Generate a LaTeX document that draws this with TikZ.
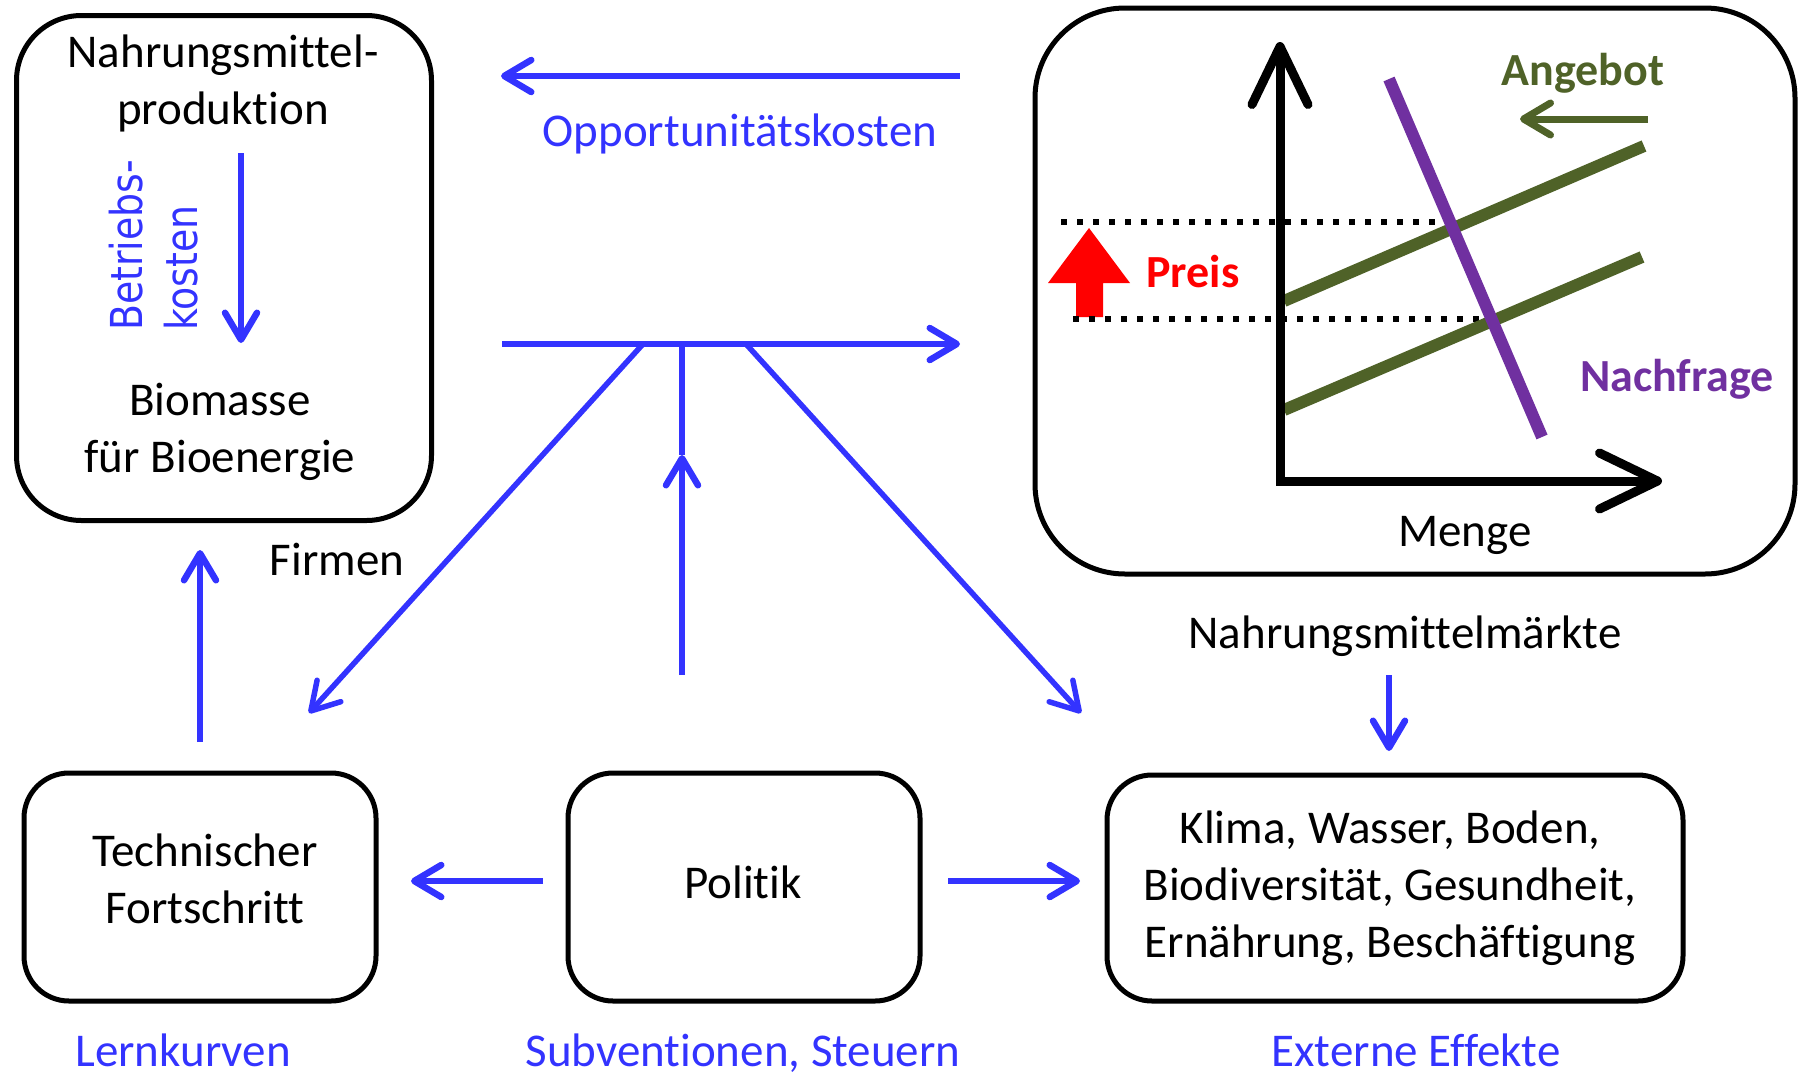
\documentclass[tikz,border=0pt]{standalone}
\usepackage{fontspec}
\usepackage{graphicx}
\setmainfont{Carlito}[Ligatures={NoCommon,NoContextual}]
\newfontfamily\dejavu{DejaVu Sans}
\usetikzlibrary{arrows.meta}
\definecolor{flowblue}{RGB}{51,51,255}
\definecolor{supplygreen}{RGB}{79,98,40}
\definecolor{demandpurple}{RGB}{112,48,160}
\begin{document}
\begin{tikzpicture}[x=1pt,y=-1pt,
  box/.style={draw=black, line width=5pt, inner sep=0pt},
  txt/.style={font=\fontsize{47}{57}\selectfont, anchor=base, align=center, inner sep=0pt},
  bluetxt/.style={txt, text=flowblue},
  boldtxt/.style={txt, font=\fontsize{46}{57}\selectfont\bfseries},
  flow/.style={draw=flowblue, line width=6.5pt, -{Straight Barb[length=27pt,width=32pt,round]}},
  flowline/.style={draw=flowblue, line width=6.5pt},
  diagflow/.style={draw=flowblue, line width=5.5pt, -{Straight Barb[length=27pt,width=32pt,round]}},
  axis/.style={draw=black, line width=9pt, line join=miter, {Straight Barb[length=58pt,width=56pt,round]}-{Straight Barb[length=58pt,width=56pt,round]}},
  dotline/.style={draw=black, line width=6pt, dash pattern=on 6pt off 10pt},
  curve/.style={line width=12pt},
]
\useasboundingbox (0,0) rectangle (1802,1077);

% boxes
\node[box, rounded corners=65pt, minimum width=415pt, minimum height=505pt] (prod) at (224,268) {};
\node[box, rounded corners=90pt, minimum width=760pt, minimum height=566pt] (market) at (1415,291) {};
\node[box, rounded corners=45pt, minimum width=352pt, minimum height=228pt] (tech) at (200,887) {};
\node[box, rounded corners=45pt, minimum width=352pt, minimum height=228pt] (pol) at (744,887) {};
\node[box, rounded corners=45pt, minimum width=576pt, minimum height=226pt] (ext) at (1395,888) {};

% texts in boxes (base anchor = baseline of last line)
\node[txt] (nm) at (223,124) {Nahrungsmittel-\\produktion};
\node[txt] (bio) at (220,472) {Biomasse\\für Bioenergie};
\node[txt] (techtxt) at (205,923) {Technischer\\Fortschritt};
\node[txt] (poltxt) at (743,898) {Politik};
\node[txt] (exttxt) at (1390,957) {Klima, Wasser, Boden,\\Biodiversität, Gesundheit,\\Ernährung, Beschäftigung};

% free labels
\node[bluetxt] (opptxt) at (740,146) {Opportunitätskosten};
\node[txt] (firmen) at (337,575) {Firmen};
\node[txt] (nmm) at (1405,648) {Nahrungsmittelmärkte};
\node[bluetxt] (lern) at (183,1066) {Lernkurven};
\node[bluetxt] (subv) at (743,1066) {Subventionen, Steuern};
\node[bluetxt] (exteff) at (1416,1066) {Externe Effekte};
\node[anchor=base west, rotate=90, align=left, inner sep=0pt, text=flowblue,
      font=\dejavu\fontsize{44}{55}\selectfont] (betr) at (197,331)
      {\scalebox{0.86}[1]{Betriebs-}\\\scalebox{0.86}[1]{kosten}};

% coordinates for flows
\coordinate (oppS) at (960,76);
\coordinate (oppE) at (501,76);
\coordinate (betrS) at (241,153);
\coordinate (betrE) at (241,343);
\coordinate (hL) at (502,344);
\coordinate (hR) at (960,344);
\coordinate (dL) at (643,344);
\coordinate (dLend) at (309,713);
\coordinate (dR) at (746,344);
\coordinate (dRend) at (1081,713);
\coordinate (vTop) at (682,344);
\coordinate (vMid) at (682,455);
\coordinate (vBot) at (682,675);
\coordinate (techUpS) at (200,742);
\coordinate (techUpE) at (200,550);
\coordinate (polL) at (543,881);
\coordinate (polLE) at (411,881);
\coordinate (polR) at (948,881);
\coordinate (polRE) at (1080,881);
\coordinate (mktS) at (1389,675);
\coordinate (mktE) at (1389,751);

\draw[flow] (oppS) -- (oppE);
\draw[flow] (betrS) -- (betrE);
\draw[flow] (hL) -- (hR);
\draw[diagflow] (dL) -- (dLend);
\draw[diagflow] (dR) -- (dRend);
\draw[flow] (vBot) -- (vMid);
\draw[flowline] (vMid) -- (vTop);
\draw[flow] (techUpS) -- (techUpE);
\draw[flow] (polL) -- (polLE);
\draw[flow] (polR) -- (polRE);
\draw[flow] (mktS) -- (mktE);

% market diagram
\fill[red] (1089,228) -- (1130,283) -- (1103,283) -- (1103,317) -- (1076,317) -- (1076,283) -- (1048,283) -- cycle;
\coordinate (dotUpS) at (1061,222);
\coordinate (dotUpE) at (1440,222);
\coordinate (dotLoS) at (1073,319);
\coordinate (dotLoE) at (1481,319);
\draw[dotline] (dotUpS) -- (dotUpE);
\draw[dotline] (dotLoS) -- (dotLoE);
\coordinate (s1a) at (1284,301);
\coordinate (s1b) at (1644,146);
\coordinate (s2a) at (1284,410);
\coordinate (s2b) at (1642,257);
\draw[curve, supplygreen] (s1a) -- (s1b);
\draw[curve, supplygreen] (s2a) -- (s2b);
\coordinate (dA) at (1389,79);
\coordinate (dB) at (1542,437);
\draw[curve, demandpurple] (dA) -- (dB);
\coordinate (yTip) at (1280,42);
\coordinate (origin) at (1280,481);
\coordinate (xTip) at (1662,481);
\draw[axis] (yTip) -- (origin) -- (xTip);
\coordinate (angS) at (1648,119);
\coordinate (angE) at (1520,119);
\draw[draw=supplygreen, line width=7pt, -{Straight Barb[length=27pt,width=32pt,round]}] (angS) -- (angE);

\node[boldtxt, text=supplygreen] (angebot) at (1583,85) {Angebot};
\node[boldtxt, text=demandpurple] (nachfrage) at (1677,391) {Nachfrage};
\node[boldtxt, text=red] (preis) at (1193,287) {Preis};
\node[txt] (menge) at (1465,546) {Menge};
\end{tikzpicture}
\end{document}
